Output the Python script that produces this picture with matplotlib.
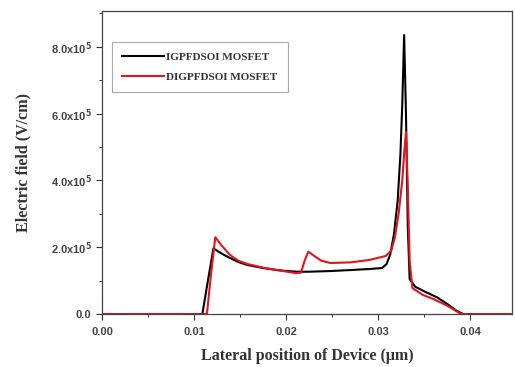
import numpy as np
import matplotlib
matplotlib.use('Agg')
import matplotlib.pyplot as plt
from matplotlib.ticker import FuncFormatter, MultipleLocator

# IGPFDSOI MOSFET (black)
x_ig = [0.0, 0.004, 0.008, 0.0105, 0.0109, 0.0115, 0.0121, 0.0126, 0.0132, 0.0139,
        0.0148, 0.0158, 0.0175, 0.0190, 0.0201, 0.0212, 0.0225, 0.0248, 0.0270,
        0.0290, 0.0304, 0.0309, 0.0313, 0.0317, 0.0321, 0.0324, 0.0326, 0.0328,
        0.0330, 0.0332, 0.0334, 0.0340, 0.0350, 0.0364, 0.0375, 0.0385, 0.0392,
        0.0420, 0.0445]
e_ig = [0.0, 0.0, 0.0, 0.0, 0.01e5, 1.0e5, 1.97e5, 1.88e5, 1.78e5, 1.68e5,
        1.56e5, 1.47e5, 1.38e5, 1.32e5, 1.29e5, 1.27e5, 1.27e5, 1.29e5, 1.32e5,
        1.35e5, 1.38e5, 1.5e5, 1.8e5, 2.4e5, 3.4e5, 4.8e5, 6.3e5, 8.35e5,
        6.0e5, 2.6e5, 1.05e5, 0.82e5, 0.68e5, 0.5e5, 0.3e5, 0.1e5, 0.0,
        0.0, 0.0]

# DIGPFDSOI MOSFET (red)
x_dig = [0.0, 0.003, 0.006, 0.009, 0.0112, 0.0114, 0.0118, 0.0123, 0.0130, 0.0139,
         0.0148, 0.0158, 0.0175, 0.0190, 0.0201, 0.0210, 0.0216, 0.0220, 0.0224,
         0.0230, 0.0238, 0.0248, 0.0270, 0.0290, 0.0308, 0.0314, 0.0318, 0.0322,
         0.0326, 0.0328, 0.0330, 0.0332, 0.0334, 0.0337, 0.0348, 0.0360, 0.0375,
         0.0390, 0.0420, 0.0445]
e_dig = [0.0, 0.002e5, 0.004e5, 0.002e5, 0.0, 0.02e5, 1.1e5, 2.3e5, 2.05e5, 1.77e5,
         1.6e5, 1.5e5, 1.39e5, 1.32e5, 1.27e5, 1.23e5, 1.24e5, 1.6e5, 1.87e5,
         1.75e5, 1.6e5, 1.53e5, 1.55e5, 1.62e5, 1.74e5, 1.9e5, 2.3e5, 3.0e5,
         4.0e5, 4.8e5, 5.45e5, 3.8e5, 1.6e5, 0.78e5, 0.58e5, 0.45e5, 0.25e5,
         0.0, 0.0, 0.0]

labels = ['IGPFDSOI MOSFET', 'DIGPFDSOI MOSFET']

fig = plt.figure(figsize=(5.15, 3.67), dpi=100)
ax = fig.add_axes([0.198, 0.144, 0.796, 0.826])

ax.plot(x_ig, e_ig, color='black', lw=1.5, label=labels[0])
ax.plot(x_dig, e_dig, color='#e3141c', lw=1.5, label=labels[1])

ax.set_xlim(0, 0.0445)
ax.set_ylim(0, 9.07e5)
ax.xaxis.set_major_locator(MultipleLocator(0.01))
ax.xaxis.set_minor_locator(MultipleLocator(0.005))
ax.yaxis.set_major_locator(MultipleLocator(2e5))
ax.yaxis.set_minor_locator(MultipleLocator(1e5))


def yfmt(v, pos):
    if v == 0:
        return '0.0'
    return '%.1fx10$^{\\mathbf{5}}$' % (v / 1e5)


ax.yaxis.set_major_formatter(FuncFormatter(yfmt))
ax.xaxis.set_major_formatter(FuncFormatter(lambda v, p: '%.2f' % v))
ax.tick_params(which='both', direction='out', colors='#333333')
ax.tick_params(which='major', length=4, width=0.8, labelsize=8, labelcolor='#444444')
ax.tick_params(axis='x', which='major', pad=5)
ax.tick_params(which='minor', length=2.5, width=0.7)
for lab in ax.get_xticklabels() + ax.get_yticklabels():
    lab.set_fontfamily('Liberation Sans')
    lab.set_fontweight('bold')
for s in ax.spines.values():
    s.set_color('#444444')
    s.set_linewidth(0.9)

ax.set_xlabel('Lateral position of Device (\u03bcm)', fontfamily='Liberation Serif',
              fontweight='bold', fontsize=11.5, color='#333333', labelpad=8)
ax.set_ylabel('Electric field (V/cm)', fontfamily='Liberation Serif',
              fontweight='bold', fontsize=11.5, color='#333333', labelpad=14)

leg = ax.legend(loc='upper left', bbox_to_anchor=(0.024, 0.898), fancybox=False,
                prop={'family': 'Liberation Serif', 'weight': 'bold', 'size': 8},
                handlelength=3.8, labelspacing=0.95, borderpad=0.9, handletextpad=0.2,
                borderaxespad=0, edgecolor='#aaaaaa', framealpha=1)
leg.get_frame().set_linewidth(0.8)
for t in leg.get_texts():
    t.set_color('#333333')

fig.savefig('out.png', dpi=100)
